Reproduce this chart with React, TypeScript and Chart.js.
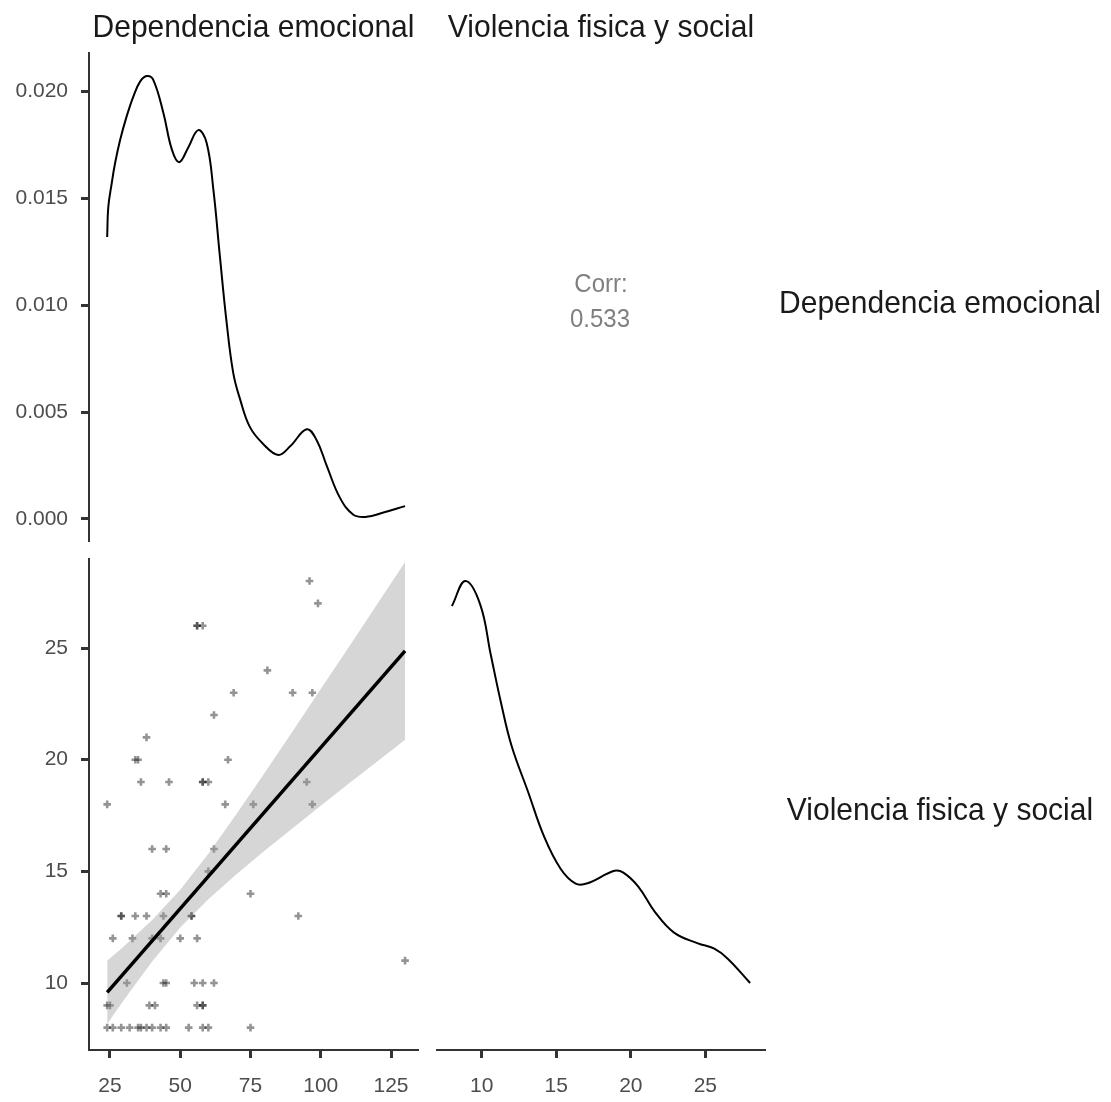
import React, { useEffect, useRef } from "react";
import { Chart, registerables } from "chart.js";

Chart.register(...registerables);

// ---------- data ----------
const VAR_NAMES = ["Dependencia emocional", "Violencia fisica y social"];
const CORR_LABEL = "Corr:";
const CORR_VALUE = "0.533";

const DEP_TICKS = [25, 50, 75, 100, 125];
const VIO_TICKS = [10, 15, 20, 25];
const DENS_TICKS = [0, 0.005, 0.01, 0.015, 0.02];

// density of "Dependencia emocional"
const DEP_DENS_X = [24, 24.4, 25.6, 26.8, 28.6, 30.9, 33.3, 35.7, 38.1, 40.4, 44, 47, 49.6, 52.9, 56.4, 59.4, 61.8, 64.1, 66.5, 68.9, 71.3, 74.8, 79.6, 84.9, 89.1, 95, 98.5, 102.1, 106.8, 111.6, 116.3, 122.3, 130];
const DEP_DENS_Y = [0.0132, 0.0146, 0.0157, 0.01665, 0.01774, 0.01883, 0.01977, 0.02047, 0.02073, 0.02055, 0.019, 0.0173, 0.0167, 0.0174, 0.0182, 0.0176, 0.0154, 0.0123, 0.0092, 0.0068, 0.0056, 0.0043, 0.0035, 0.003, 0.0034, 0.0042, 0.0037, 0.0025, 0.001, 0.0002, 0.0001, 0.0003, 0.0006];

// density of "Violencia fisica y social"
const VIO_DENS_X = [8, 8.9, 9.9, 10.6, 11.3, 12, 13.1, 14.2, 15.3, 16.3, 17.1, 18.9, 19.5, 20.5, 21.6, 22.9, 24.5, 25.6, 26.5, 28];
const VIO_DENS_Y = [0.118, 0.125, 0.1184, 0.1045, 0.0908, 0.0789, 0.0661, 0.0533, 0.0444, 0.0403, 0.0404, 0.0439, 0.0434, 0.0395, 0.0325, 0.0266, 0.0236, 0.0221, 0.0193, 0.0125];

// scatter observations
const SCATTER_DEP = [
  96, 99, 56, 56, 58, 81, 69, 90, 97, 62, 38, 34, 35, 67,
  36, 46, 58, 58, 60, 95, 24, 66, 76, 97, 40, 45, 62, 60,
  43, 45, 75, 29, 29, 34, 38, 44, 54, 54, 92,
  26, 33, 40, 43, 50, 56, 130,
  31, 44, 45, 55, 58, 62,
  24, 25, 39, 41, 56, 58, 58,
  24, 26, 29, 32, 35, 36, 38, 40, 43, 45, 53, 58, 60, 75,
];
const SCATTER_VIO = [
  28, 27, 26, 26, 26, 24, 23, 23, 23, 22, 21, 20, 20, 20,
  19, 19, 19, 19, 19, 19, 18, 18, 18, 18, 16, 16, 16, 15,
  14, 14, 14, 13, 13, 13, 13, 13, 13, 13, 13,
  12, 12, 12, 12, 12, 12, 11,
  10, 10, 10, 10, 10, 10,
  9, 9, 9, 9, 9, 9, 9,
  8, 8, 8, 8, 8, 8, 8, 8, 8, 8, 8, 8, 8, 8,
];

// linear fit and its confidence band
const FIT_X = [24, 130];
const FIT_Y = [9.58, 24.87];
const BAND_X = [24, 30, 40, 50, 60, 70, 80, 90, 100, 110, 120, 130];
const BAND_HI = [11.0, 11.65, 12.82, 14.18, 15.79, 17.57, 19.4, 21.27, 23.16, 25.05, 26.95, 28.85];
const BAND_LO = [8.16, 9.25, 10.96, 12.48, 13.75, 14.87, 15.92, 16.93, 17.94, 18.93, 19.91, 20.89];

// ---------- styling ----------
const W = 1111;
const H = 1102;
const FONT = '"Liberation Sans", Arial, Helvetica, sans-serif';
const AXIS_COLOR = "#333333";
const TICK_COLOR = "#4d4d4d";

const pts = (xs: number[], ys: number[]) => xs.map((x, i) => ({ x, y: ys[i] }));

function axis(ticks: number[], min: number, max: number, fmt: (v: number) => string, pad: number, fit?: (s: any) => void) {
  return {
    type: "linear",
    min,
    max,
    display: true,
    border: { display: true, color: AXIS_COLOR, width: 2 },
    grid: { drawOnChartArea: false, drawTicks: true, tickLength: 8, tickWidth: 3, tickColor: AXIS_COLOR },
    ticks: {
      color: TICK_COLOR,
      font: { family: FONT, size: 21 },
      padding: pad,
      autoSkip: false,
      maxRotation: 0,
      callback: (v: any) => fmt(Number(v)),
    },
    afterBuildTicks: (a: any) => {
      a.ticks = ticks.map((value) => ({ value }));
    },
    afterFit: fit,
  };
}

const hidden = (min: number, max: number) => ({ type: "linear", min, max, display: false });

const baseOptions = (padding: any, scales: any) => ({
  responsive: false,
  animation: false,
  events: [],
  layout: { padding },
  plugins: { legend: { display: false }, tooltip: { enabled: false }, filler: { drawTime: "beforeDatasetDraw" } },
  scales,
});

// panel geometry (chart area bounds)
const LEFT_COL = { l: 89, r: 418 };
const RIGHT_COL = { l: 437, r: 765 };
const TOP_ROW = { t: 53.2, b: 541.2 };
const BOT_ROW = { t: 558.7, b: 1050 };

const DEP_RANGE = [17.53, 134.6];
const VIO_RANGE = [7, 29];

function makeConfigs() {
  const depDensity = {
    type: "scatter",
    data: {
      datasets: [
        {
          data: pts(DEP_DENS_X, DEP_DENS_Y),
          showLine: true,
          borderColor: "#000",
          borderWidth: 2,
          pointRadius: 0,
          tension: 0.4,
        },
      ],
    },
    options: baseOptions(
      { left: 0, top: TOP_ROW.t, right: W - LEFT_COL.r, bottom: H - TOP_ROW.b },
      {
        x: hidden(DEP_RANGE[0], DEP_RANGE[1]),
        y: axis(DENS_TICKS, -0.00104, 0.0218, (v) => v.toFixed(3), 13, (s: any) => { s.width = LEFT_COL.l; }),
      }
    ),
  };

  const scatter = {
    type: "scatter",
    data: {
      datasets: [
        {
          label: "fit",
          data: pts(FIT_X, FIT_Y),
          showLine: true,
          borderColor: "#000",
          borderWidth: 3.5,
          pointRadius: 0,
          order: 0,
        },
        {
          label: "upper",
          data: pts(BAND_X, BAND_HI),
          showLine: true,
          borderWidth: 0,
          borderColor: "rgba(0,0,0,0)",
          backgroundColor: "rgba(153,153,153,0.4)",
          pointRadius: 0,
          fill: "+1",
          order: 1,
        },
        {
          label: "lower",
          data: pts(BAND_X, BAND_LO),
          showLine: true,
          borderWidth: 0,
          borderColor: "rgba(0,0,0,0)",
          pointRadius: 0,
          fill: false,
          order: 2,
        },
        {
          label: "obs",
          data: pts(SCATTER_DEP, SCATTER_VIO),
          pointStyle: "cross",
          pointRadius: 3.8,
          pointBorderWidth: 2.6,
          pointBorderColor: "rgba(0,0,0,0.42)",
          borderColor: "rgba(0,0,0,0.42)",
          order: 3,
        },
      ],
    },
    options: baseOptions(
      { left: 0, top: BOT_ROW.t, right: W - LEFT_COL.r, bottom: 0 },
      {
        x: axis(DEP_TICKS, DEP_RANGE[0], DEP_RANGE[1], (v) => String(v), 16, (s: any) => { s.height = H - BOT_ROW.b; }),
        y: axis(VIO_TICKS, VIO_RANGE[0], VIO_RANGE[1], (v) => String(v), 13, (s: any) => { s.width = LEFT_COL.l; }),
      }
    ),
  };

  const vioDensity = {
    type: "scatter",
    data: {
      datasets: [
        {
          data: pts(VIO_DENS_X, VIO_DENS_Y),
          showLine: true,
          borderColor: "#000",
          borderWidth: 2,
          pointRadius: 0,
          tension: 0.4,
        },
      ],
    },
    options: baseOptions(
      { left: RIGHT_COL.l, top: BOT_ROW.t, right: W - RIGHT_COL.r, bottom: 0 },
      {
        x: axis(VIO_TICKS, VIO_RANGE[0], VIO_RANGE[1], (v) => String(v), 16, (s: any) => { s.height = H - BOT_ROW.b; }),
        y: hidden(-0.00625, 0.13125),
      }
    ),
  };

  return [depDensity, scatter, vioDensity];
}

function ChartLayer({ config }: { config: any }) {
  const ref = useRef<HTMLCanvasElement | null>(null);
  useEffect(() => {
    if (!ref.current) return;
    const chart = new Chart(ref.current, config);
    return () => chart.destroy();
  }, [config]);
  return (
    <canvas
      ref={ref}
      width={W}
      height={H}
      style={{ position: "absolute", left: 0, top: 0, width: W, height: H }}
    />
  );
}

function Label({ text, cx, cy, size, color }: { text: string; cx: number; cy: number; size: number; color: string }) {
  return (
    <div
      style={{
        position: "absolute",
        left: cx,
        top: cy,
        transform: "translate(-50%, -50%) scaleY(1.07)",
        fontFamily: FONT,
        fontSize: size,
        lineHeight: 1,
        color,
        whiteSpace: "nowrap",
      }}
    >
      {text}
    </div>
  );
}

const CONFIGS = makeConfigs();

export default function App() {
  return (
    <div
      style={{
        position: "absolute",
        left: 0,
        top: 0,
        width: W,
        height: H,
        overflow: "hidden",
        background: "#ffffff",
      }}
    >
      {CONFIGS.map((c, i) => (
        <ChartLayer key={i} config={c} />
      ))}
      <Label text={VAR_NAMES[0]} cx={253.5} cy={26} size={30} color="#1a1a1a" />
      <Label text={VAR_NAMES[1]} cx={601} cy={26} size={30} color="#1a1a1a" />
      <Label text={VAR_NAMES[0]} cx={940} cy={302} size={30} color="#1a1a1a" />
      <Label text={VAR_NAMES[1]} cx={940} cy={809} size={30} color="#1a1a1a" />
      <Label text={CORR_LABEL} cx={601} cy={283} size={24} color="#808080" />
      <Label text={CORR_VALUE} cx={600} cy={318} size={24} color="#808080" />
    </div>
  );
}
